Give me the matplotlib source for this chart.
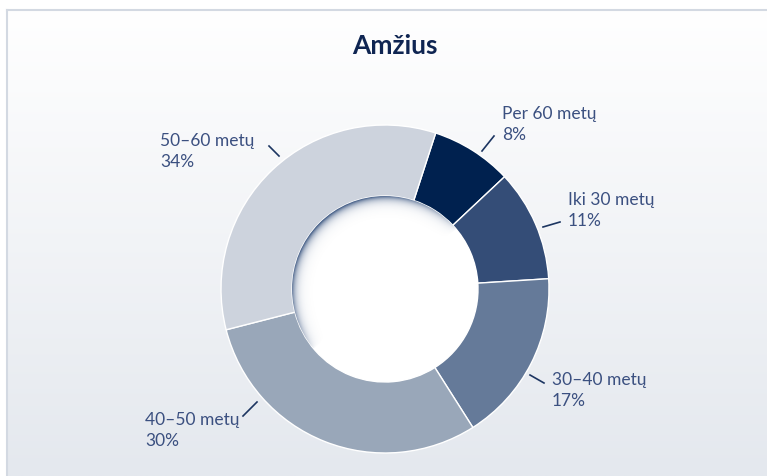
import numpy as np
import matplotlib
matplotlib.use("Agg")
import matplotlib.pyplot as plt
from matplotlib.patches import Circle
from matplotlib.colors import to_rgb

# ---- data ----
categories = ["Per 60 metų", "Iki 30 metų", "30–40 metų", "40–50 metų", "50–60 metų"]
values = [8, 11, 17, 30, 34]
pct_labels = ["8%", "11%", "17%", "30%", "34%"]
colors = ["#00214f", "#344d77", "#657a99", "#99a7b9", "#cdd3dd"]
title = "Amžius"

W, H = 767, 477
fig = plt.figure(figsize=(W / 100, H / 100), dpi=100)
ax = fig.add_axes([0, 0, 1, 1])

# background gradient inside the frame
fx0, fy_top = 7, 11
grad = np.linspace(0, 1, 256)[:, None]
top = np.array(to_rgb("#ffffff"))
bot = np.array(to_rgb("#e4e8ee"))
img = top[None, None, :] * (1 - grad[..., None]) + bot[None, None, :] * grad[..., None]
img = np.repeat(img, 2, axis=1)
ax.imshow(img, extent=(fx0, W, 0, H - fy_top), aspect="auto", zorder=0, interpolation="bilinear")
ax.plot([fx0, fx0], [0, H - fy_top], color="#d3d9e2", lw=1.5, zorder=1)
ax.plot([fx0, W], [H - fy_top, H - fy_top], color="#d3d9e2", lw=1.5, zorder=1)

# donut
cx, cy = 385, H - 290
R, r = 164, 93
wedges, _ = ax.pie(values, colors=colors, startangle=72, counterclock=False,
                   center=(cx, cy), radius=R,
                   wedgeprops=dict(width=R - r, edgecolor="white", linewidth=1.0))

hole = Circle((cx, cy), r, facecolor="white", edgecolor="none", zorder=3)
ax.add_patch(hole)

# inner shadow of the hole
n = 400
xs = np.linspace(cx - r, cx + r, n)
ys = np.linspace(cy - r, cy + r, n)
X, Y = np.meshgrid(xs, ys)
dist = np.hypot(X - cx, Y - cy)
d = r - dist
theta = np.arctan2(Y - cy, X - cx)
f = np.clip(np.cos(theta - np.deg2rad(130)), 0, 1) ** 0.6
alpha = np.clip(np.exp(-np.clip(d, 0, None) / 4.0) * f, 0, 1) * 0.95
sh = np.zeros((n, n, 4))
sh[..., :3] = to_rgb("#2d4a78")
sh[..., 3] = alpha
im = ax.imshow(sh, extent=(cx - r, cx + r, cy - r, cy + r), origin="lower",
               zorder=4, interpolation="bilinear")
clip = Circle((cx, cy), r, transform=ax.transData)
im.set_clip_path(clip)

# labels
label_font = ["Lato", "DejaVu Sans"]
text_color = "#3b5080"
label_pos = [(502, 114), (568, 200), (552, 380), (145, 420), (160, 141)]
leaders = [((482, 152), (494, 137)), ((543, 228), (560, 223)), ((530, 376), (544, 384)),
           ((243, 417), (257, 403)), ((269, 147), (279, 157))]
for cat, pct, (lx, ly), ((x1, y1), (x2, y2)) in zip(categories, pct_labels, label_pos, leaders):
    ax.text(lx, H - ly, cat, fontsize=12.5, family=label_font, color=text_color,
            ha="left", va="center", zorder=5)
    ax.text(lx, H - ly - 21, pct, fontsize=12.5, family=label_font, color=text_color,
            ha="left", va="center", zorder=5)
    ax.plot([x1, x2], [H - y1, H - y2], color="#1c3561", lw=1.2, zorder=5)

ax.text(395, H - 46, title, fontsize=19, fontweight="bold", family=label_font,
        color="#0f2552", ha="center", va="center", zorder=5)

ax.set_xlim(0, W)
ax.set_ylim(0, H)
ax.set_aspect("equal")
ax.axis("off")
fig.savefig("out.png", dpi=100, facecolor="white")
